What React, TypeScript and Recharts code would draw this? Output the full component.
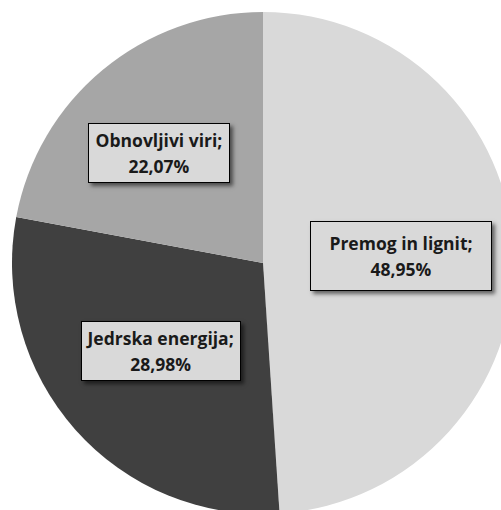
import { PieChart, Pie, Cell } from 'recharts'

const names = ['Premog in lignit', 'Jedrska energija', 'Obnovljivi viri']
const shares = [48.95, 28.98, 22.07]
const colors = ['#d9d9d9', '#404040', '#a6a6a6']

const data = names.map((name, i) => ({ name, value: shares[i] }))

// label placement (fraction of radius), nudges and box padding per slice
const labelRadius = [0.57, 0.535, 0.605]
const labelNudge = [[-5, -2], [-2, -1], [-7, 7]]
const boxPadding = ['8px 18px', '3px 6px', '3px 7px']

const RADIAN = Math.PI / 180

function renderLabel(props: any) {
  const { cx, cy, midAngle, outerRadius, index, name, value } = props
  const r = outerRadius * labelRadius[index]
  const x = cx + r * Math.cos(-midAngle * RADIAN) + labelNudge[index][0]
  const y = cy + r * Math.sin(-midAngle * RADIAN) + labelNudge[index][1]
  const w = 260
  const h = 100
  return (
    <foreignObject x={x - w / 2} y={y - h / 2} width={w} height={h} key={name}>
      <div
        style={{
          width: w,
          height: h,
          display: 'flex',
          alignItems: 'center',
          justifyContent: 'center',
        }}
      >
        <div
          style={{
            background: '#d9d9d9',
            border: '1.5px solid #000',
            boxShadow: '3px 3px 4px rgba(0,0,0,0.55)',
            padding: boxPadding[index],
            fontFamily: '"Open Sans", sans-serif',
            fontWeight: 700,
            fontSize: 17.5,
            lineHeight: '26px',
            color: '#1a1a1a',
            textAlign: 'center',
            whiteSpace: 'nowrap',
          }}
        >
          <div>{name};</div>
          <div>{value.toFixed(2).replace('.', ',')}%</div>
        </div>
      </div>
    </foreignObject>
  )
}

export default function App() {
  return (
    <div style={{ position: 'absolute', left: 0, top: 0, width: 501, height: 510, background: '#fff' }}>
      <PieChart width={501} height={510} margin={{ top: 0, right: 0, bottom: 0, left: 0 }}>
        <Pie
          data={data}
          dataKey="value"
          nameKey="name"
          cx={263}
          cy={263}
          outerRadius={251}
          startAngle={90}
          endAngle={-270}
          stroke="none"
          label={renderLabel}
          labelLine={false}
          isAnimationActive={false}
        >
          {data.map((d, i) => (
            <Cell key={d.name} fill={colors[i]} />
          ))}
        </Pie>
      </PieChart>
    </div>
  )
}
